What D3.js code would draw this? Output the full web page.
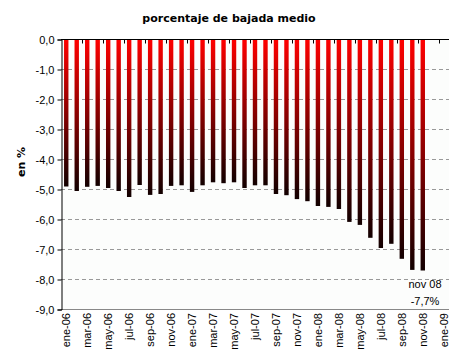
<!DOCTYPE html>
<html>
<head>
<meta charset="utf-8">
<script src="https://cdn.jsdelivr.net/npm/d3@7"></script>
<style>
  html, body { margin: 0; padding: 0; background: #ffffff; }
  svg { display: block; }
</style>
</head>
<body>
<svg id="chart" width="454" height="358"></svg>
<script>
// ---- data ----
const categories = [
  "ene-06","feb-06","mar-06","abr-06","may-06","jun-06","jul-06","ago-06","sep-06","oct-06","nov-06","dic-06",
  "ene-07","feb-07","mar-07","abr-07","may-07","jun-07","jul-07","ago-07","sep-07","oct-07","nov-07","dic-07",
  "ene-08","feb-08","mar-08","abr-08","may-08","jun-08","jul-08","ago-08","sep-08","oct-08","nov-08","dic-08",
  "ene-09"
];
const values = [
  -4.90, -5.05, -4.91, -4.88, -4.95, -5.05, -5.25, -4.85, -5.18, -5.15, -4.88, -4.86,
  -5.08, -4.86, -4.76, -4.79, -4.76, -4.95, -4.86, -4.86, -5.15, -5.19, -5.32, -5.39,
  -5.55, -5.58, -5.65, -6.08, -6.18, -6.61, -6.95, -6.81, -7.31, -7.68, -7.70
];
const xTickLabels = categories.filter((d, i) => i % 2 === 0);
const yTicks = [0, -1, -2, -3, -4, -5, -6, -7, -8, -9];
const title = "porcentaje de bajada medio";
const yTitle = "en %";
const noteLines = ["nov 08", "-7,7%"];

// ---- layout ----
const svg = d3.select("#chart");
const pL = 61, pR = 449, pT = 39.5, pB = 309.5;

const x = d3.scaleBand().domain(categories).range([pL, pR]).padding(0);
const y = d3.scaleLinear().domain([-9, 0]).range([pB, pT]);
const fmt = v => d3.format(".1f")(v).replace(".", ",").replace("−", "-");

// gradient per bar
const defs = svg.append("defs");
const grad = defs.append("linearGradient").attr("id", "barGrad")
  .attr("x1", 0).attr("y1", 0).attr("x2", 0).attr("y2", 1);
grad.append("stop").attr("offset", "0%").attr("stop-color", "#ff0000");
grad.append("stop").attr("offset", "100%").attr("stop-color", "#120000");

// plot background
svg.append("rect").attr("x", pL).attr("y", pT).attr("width", pR - pL).attr("height", pB - pT)
  .attr("fill", "#fcfdfc");

// gridlines
svg.append("g").selectAll("line").data(yTicks.filter(t => t < 0 && t > -9)).join("line")
  .attr("x1", pL).attr("x2", pR)
  .attr("y1", d => y(d)).attr("y2", d => y(d))
  .attr("stroke", "#999999").attr("stroke-width", 1).attr("stroke-dasharray", "4,3");

// bottom line
svg.append("line").attr("x1", pL).attr("x2", pR).attr("y1", y(-9)).attr("y2", y(-9))
  .attr("stroke", "#888888");

// bars
const bw = 4.4;
svg.append("g").selectAll("rect").data(values).join("rect")
  .attr("x", (d, i) => x(categories[i]) + x.bandwidth() / 2 - bw / 2)
  .attr("y", y(0))
  .attr("width", bw)
  .attr("height", d => y(d) - y(0))
  .attr("fill", "url(#barGrad)");

// top (category) axis at 0 with ticks going down
const topAxis = svg.append("g");
topAxis.append("line").attr("x1", pL).attr("x2", pR).attr("y1", y(0)).attr("y2", y(0))
  .attr("stroke", "#000");
topAxis.selectAll("line.tk").data(categories.filter((d, i) => i % 2 === 0 && i > 0)).join("line")
  .attr("class", "tk")
  .attr("x1", d => Math.round(x(d)) + 0.5).attr("x2", d => Math.round(x(d)) + 0.5)
  .attr("y1", y(0)).attr("y2", y(0) + 4)
  .attr("stroke", "#000");

// y axis
const yAxis = d3.axisLeft(y).tickValues(yTicks).tickSize(4).tickFormat(fmt);
const ya = svg.append("g").attr("transform", `translate(${pL + 0.5},0)`).call(yAxis);
ya.select(".domain").attr("stroke", "#000");
ya.selectAll(".tick line").attr("stroke", "#000");
ya.selectAll(".tick text").attr("x", -7)
  .attr("font-family", "Liberation Sans, Arial, sans-serif").attr("font-size", 11).attr("fill", "#000");

// x labels (rotated)
svg.append("g").selectAll("text").data(xTickLabels).join("text")
  .attr("transform", d => `translate(${x(d) + x.bandwidth() / 2},313) rotate(-90)`)
  .attr("text-anchor", "end")
  .attr("dy", "0.35em")
  .attr("font-family", "Liberation Sans, Arial, sans-serif").attr("font-size", 11).attr("fill", "#000")
  .text(d => d);

// title
svg.append("text").attr("x", 229).attr("y", 22).attr("text-anchor", "middle")
  .attr("font-family", "DejaVu Sans, Verdana, sans-serif").attr("font-weight", "bold").attr("font-size", 11)
  .attr("fill", "#000").text(title);

// y title
svg.append("text").attr("transform", "translate(21,162) rotate(-90)")
  .attr("text-anchor", "middle").attr("dy", "0.35em")
  .attr("font-family", "DejaVu Sans, Verdana, sans-serif").attr("font-weight", "bold").attr("font-size", 11)
  .attr("fill", "#000").text(yTitle);

// annotation
svg.append("g").selectAll("text").data(noteLines).join("text")
  .attr("x", 425).attr("y", (d, i) => 288 + i * 17).attr("text-anchor", "middle")
  .attr("font-family", "Liberation Sans, Arial, sans-serif").attr("font-size", 11).attr("fill", "#000")
  .text(d => d);
</script>
</body>
</html>
